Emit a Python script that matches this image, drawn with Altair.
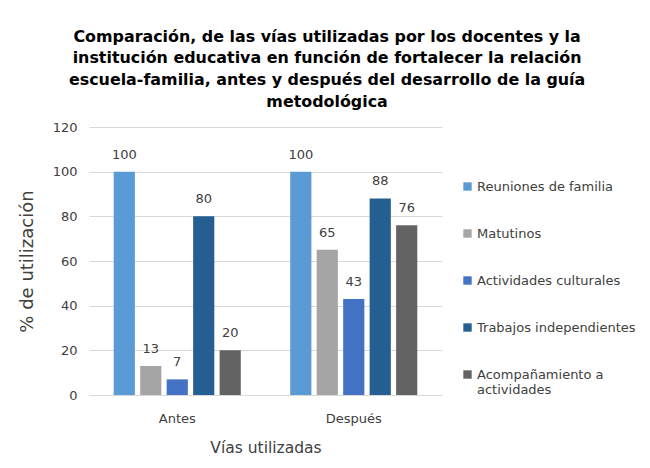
import altair as alt
import pandas as pd

categories = ["Antes", "Después"]
series = ["Reuniones de familia", "Matutinos", "Actividades culturales",
          "Trabajos independientes", "Acompañamiento a actividades"]
antes = [100, 13, 7, 80, 20]
despues = [100, 65, 43, 88, 76]
colors = ["#5B9BD5", "#A5A5A5", "#4472C4", "#255E91", "#636363"]

rows = []
for s, a, d in zip(series, antes, despues):
    rows.append({"cat": "Antes", "serie": s, "val": a})
    rows.append({"cat": "Después", "serie": s, "val": d})
df = pd.DataFrame(rows)

FONT = "DejaVu Sans"
TXT = "#404040"

base = alt.Chart(df).encode(
    x=alt.X("cat:N", sort=categories,
            scale=alt.Scale(paddingInner=0.25, paddingOuter=0.125),
            axis=alt.Axis(title="Vías utilizadas", labelAngle=0, domain=False, ticks=False,
                          grid=False, labelPadding=17, titlePadding=15, labelFontSize=13,
                          titleFontSize=15.5, labelColor=TXT, titleColor=TXT,
                          labelFont=FONT, titleFont=FONT, titleFontWeight="normal")),
    xOffset=alt.XOffset("serie:N", sort=series,
                        scale=alt.Scale(paddingInner=0.2, paddingOuter=0.1)),
)

bars = base.mark_bar().encode(
    y=alt.Y("val:Q", scale=alt.Scale(domain=[0, 120]),
            axis=alt.Axis(title="% de utilización", values=[0, 20, 40, 60, 80, 100, 120],
                          domain=False, ticks=False, labelPadding=12, titlePadding=16,
                          labelFontSize=13, titleFontSize=18, labelColor=TXT,
                          titleColor=TXT, labelFont=FONT, titleFont=FONT,
                          titleFontWeight="normal", gridColor="#D9D9D9")),
    color=alt.Color("serie:N", sort=series,
                    scale=alt.Scale(domain=series, range=colors),
                    legend=alt.Legend(title=None, orient="none", legendX=372, legendY=53,
                                      symbolType="square", symbolSize=70,
                                      symbolStrokeWidth=0, labelFontSize=13,
                                      labelFont=FONT, labelColor=TXT, labelLimit=0,
                                      rowPadding=33, labelOffset=3,
                                      labelExpr="datum.label == 'Acompañamiento a actividades' ? ['Acompañamiento a', 'actividades'] : datum.label")),
)

labels = base.mark_text(dy=-17, fontSize=13, font=FONT, color=TXT).encode(
    y=alt.Y("val:Q"),
    text=alt.Text("val:Q"),
)

chart = (bars + labels).properties(
    width=353, height=268, background="white",
    title=alt.TitleParams(
        text=["Comparación, de las vías utilizadas por los docentes y la",
              "institución educativa en función de fortalecer la relación",
              "escuela-familia, antes y después del desarrollo de la guía",
              "metodológica"],
        anchor="middle", frame="bounds", fontSize=15.9, font=FONT, fontWeight="bold",
        color="#000000", lineHeight=21.8, offset=11),
    padding={"left": 10, "top": 20, "right": 0, "bottom": 0},
).configure_view(strokeWidth=0)

chart.save("out.html", embed_options={"renderer": "svg", "actions": False})
